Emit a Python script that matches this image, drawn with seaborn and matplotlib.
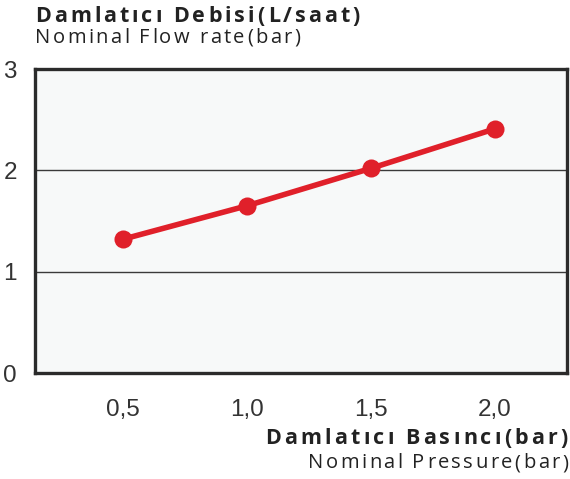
import matplotlib
matplotlib.use("Agg")
import matplotlib.pyplot as plt
import seaborn as sns
import pandas as pd
from matplotlib.font_manager import FontProperties
from matplotlib.textpath import text_to_path

# data
pressure = [0.5, 1.0, 1.5, 2.0]
pressure_labels = ["0,5", "1,0", "1,5", "2,0"]
flow = [1.32, 1.65, 2.02, 2.41]
y_ticks = [0, 1, 2, 3]

title_tr = "Damlatıcı Debisi(L/saat)"
title_en = "Nominal Flow rate(bar)"
xlabel_tr = "Damlatıcı Basıncı(bar)"
xlabel_en = "Nominal Pressure(bar)"

RED = "#E0202A"
TXT = "#222222"
W, H, DPI = 570, 479, 100

sns.set_style("white")
plt.rcParams['font.family'] = ['Liberation Sans', 'DejaVu Sans']

fig = plt.figure(figsize=(W / DPI, H / DPI), dpi=DPI)
ax = fig.add_axes([35 / W, 1 - 373 / H, 532 / W, 304 / H])

df = pd.DataFrame({"pressure": pressure, "flow": flow})
sns.lineplot(data=df, x="pressure", y="flow", color=RED, linewidth=4.0,
             marker="o", markersize=13, markeredgewidth=0, ax=ax, zorder=5)

ax.set_facecolor("#F7F9F9")
ax.set_xlim(0.146, 2.29)
ax.set_ylim(0, 3)
ax.set_yticks(y_ticks)
ax.set_yticklabels([str(v) for v in y_ticks])
ax.set_xticks(pressure)
ax.set_xticklabels(pressure_labels)
ax.tick_params(axis="both", length=0, labelsize=17.5, colors="#333333")
ax.tick_params(axis="y", pad=13)
ax.tick_params(axis="x", pad=19)
for v in [1, 2]:
    ax.axhline(v, color="#3a3a3a", linewidth=1.0, zorder=1)
for s in ax.spines.values():
    s.set_visible(True)
    s.set_color("#2b2b2b")
    s.set_linewidth(2.4)
ax.set_xlabel("")
ax.set_ylabel("")


def spaced_text(s, x, y, width, size, weight="normal", ha="left"):
    # draw a string char by char so it spans the given pixel width
    fp = FontProperties(family="Open Sans", size=size, weight=weight)
    ws = [text_to_path.get_text_width_height_descent(c, fp, ismath=False)[0] * DPI / 72 for c in s]
    gap = (width - sum(ws)) / (len(s) - 1)
    x0 = x if ha == "left" else x - width
    for c, w in zip(s, ws):
        fig.text(x0 / W, 1 - y / H, c, fontproperties=fp, color=TXT, va="center", ha="left")
        x0 += w + gap


spaced_text(title_tr, 35, 16, 325, 15.5, weight="bold")
spaced_text(title_en, 35, 38, 265, 14.5)
spaced_text(xlabel_tr, 568, 438, 303, 15.5, weight="bold", ha="right")
spaced_text(xlabel_en, 568, 463, 260, 14.5, ha="right")

fig.savefig("out.png", dpi=DPI)
